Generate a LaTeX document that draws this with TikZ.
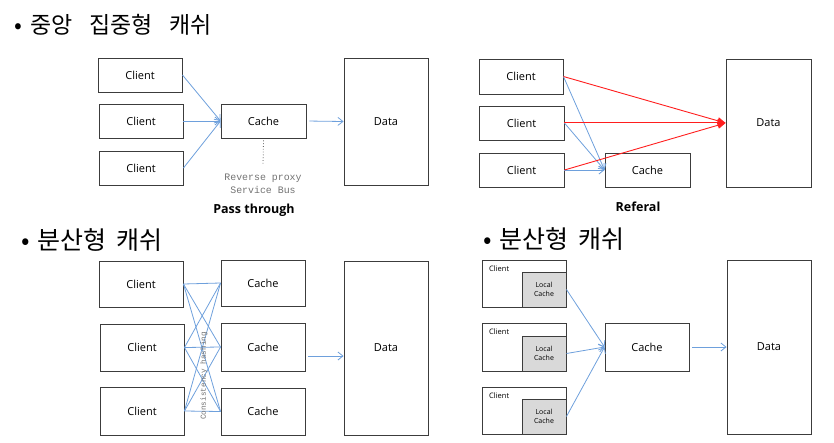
\documentclass[tikz,border=0pt]{standalone}
\usepackage{fontspec}
\setmainfont{Open Sans}
\newfontfamily\krfont{Noto Sans CJK KR}
\newfontfamily\monofnt{Liberation Mono}
\usetikzlibrary{arrows.meta,calc}
\definecolor{arrblue}{RGB}{110,160,220}
\definecolor{arrred}{RGB}{255,30,30}
\definecolor{boxline}{RGB}{60,60,60}
\definecolor{localfill}{RGB}{217,217,217}
\begin{document}
\begin{tikzpicture}[x=1pt,y=-1pt,
  box/.style={draw=boxline,line width=0.9pt,inner sep=0pt,font=\fontsize{11}{13}\selectfont},
  bl/.style={draw=arrblue,line width=0.8pt},
  barrow/.style={bl,-{Straight Barb[length=5pt,width=8pt]}},
  rarrow/.style={draw=arrred,color=arrred,line width=0.9pt,-{Triangle[length=8pt,width=7pt]}},
  title/.style={anchor=base west,inner sep=0pt,font=\krfont\fontsize{23}{28}\selectfont},
  titleb/.style={anchor=base west,inner sep=0pt,font=\krfont\fontsize{25}{30}\selectfont},
  caption/.style={inner sep=0pt,font=\bfseries\fontsize{12.5}{15}\selectfont},
  note/.style={inner sep=0pt,text=black!55,font=\monofnt\fontsize{9.9}{12.5}\selectfont,align=center},
  localbox/.style={draw=boxline,line width=0.9pt,fill=localfill,inner sep=0pt,align=center,font=\fontsize{7}{8.5}\selectfont},
  small/.style={anchor=west,inner sep=0pt,font=\fontsize{7.5}{9}\selectfont}
]
\useasboundingbox (0,0) rectangle (834,442);

% ---------- top left: pass through ----------
\node[title] (t1) at (14,33) {•\hspace{8pt}중앙\hspace{17pt}집중형\hspace{17pt}캐쉬};
\node[box,minimum width=84pt,minimum height=34pt] (a1) at (140,75) {Client};
\node[box,minimum width=84pt,minimum height=34pt] (a2) at (141,121) {Client};
\node[box,minimum width=84pt,minimum height=34pt] (a3) at (141,168) {Client};
\node[box,minimum width=85pt,minimum height=34pt] (ac) at (263.5,121) {Cache};
\node[box,minimum width=84pt,minimum height=127pt] (ad) at (386,121.5) {Data};
\draw[barrow] (a1.east) -- (ac.west);
\draw[barrow] (a2.east) -- (ac.west);
\draw[barrow] (a3.east) -- (ac.west);
\draw[barrow,shorten <=3pt] (ac.east) -- (ad.west);
\coordinate (adot) at (263,165);
\draw[dotted,line width=0.8pt,black!60] ([yshift=-2pt]ac.south) -- (adot);
\node[note] (anote) at (263,184) {Reverse proxy\\Service Bus};
\node[caption] (acap) at (254,210.5) {Pass through};

% ---------- top right: referal ----------
\node[box,minimum width=84pt,minimum height=35pt] (b1) at (521,76.5) {Client};
\node[box,minimum width=85pt,minimum height=34pt] (b2) at (521.5,123) {Client};
\node[box,minimum width=85pt,minimum height=34pt] (b3) at (521.5,170) {Client};
\node[box,minimum width=85pt,minimum height=34pt] (bc) at (647.5,170) {Cache};
\node[box,minimum width=85pt,minimum height=128pt] (bd) at (768.5,123) {Data};
\draw[barrow] (b1.east) -- (bc.west);
\draw[barrow] (b2.east) -- (bc.west);
\draw[barrow] (b3.east) -- (bc.west);
\draw[rarrow] (b1.east) -- (bd.west);
\draw[rarrow] ([yshift=0.3pt]b2.east) -- ([yshift=0.3pt]bd.west);
\draw[rarrow] (b3.east) -- (bd.west);
\node[caption] (bcap) at (638,207) {Referal};

% ---------- bottom left: distributed ----------
\node[titleb] (t2) at (21,249.5) {•\hspace{8pt}분산형\hspace{10pt}캐쉬};
\node[box,minimum width=84pt,minimum height=46pt] (c1) at (141,284) {Client};
\node[box,minimum width=84pt,minimum height=47pt] (c2) at (142,347.5) {Client};
\node[box,minimum width=84pt,minimum height=48pt] (c3) at (142,411) {Client};
\node[box,minimum width=84pt,minimum height=46pt] (k1) at (263,283) {Cache};
\node[box,minimum width=84pt,minimum height=48pt] (k2) at (263,347) {Cache};
\node[box,minimum width=84pt,minimum height=47pt] (k3) at (263,411.5) {Cache};
\node[box,minimum width=84pt,minimum height=174pt] (cd) at (386,348) {Data};
\foreach \i in {1,2,3}{\foreach \j in {1,2,3}{\draw[bl] (c\i.east) -- (k\j.west);}}
\draw[barrow] ([xshift=3pt,yshift=-9pt]k2.east) -- ([yshift=-9pt]k2.east -| cd.west);
\node[inner sep=0pt,rotate=90,text=black!55,font=\monofnt\fontsize{7.7}{9}\selectfont] (hash) at (204,376) {Consistency hashing};

% ---------- bottom right: local cache ----------
\node[titleb] (t3) at (483,248) {•\hspace{8pt}분산형\hspace{10pt}캐쉬};
\node[box,minimum width=84pt,minimum height=47pt] (e1) at (524,283.5) {};
\node[box,minimum width=84pt,minimum height=48pt] (e2) at (524,347) {};
\node[box,minimum width=84pt,minimum height=47pt] (e3) at (524,410.5) {};
\node[localbox,minimum width=44pt,minimum height=35pt] (l1) at (544,289.5) {Local\\Cache};
\node[localbox,minimum width=44pt,minimum height=35pt] (l2) at (544,353.5) {Local\\Cache};
\node[localbox,minimum width=44pt,minimum height=35pt] (l3) at (544,416.5) {Local\\Cache};
\node[small] (n1) at (489,268.5) {Client};
\node[small] (n2) at (489,332) {Client};
\node[small] (n3) at (489,395.5) {Client};
\node[box,minimum width=84pt,minimum height=48pt] (ec) at (647,347) {Cache};
\node[box,minimum width=84pt,minimum height=174pt] (ed) at (769,347) {Data};
\draw[barrow] (l1.east) -- (ec.west);
\draw[barrow] (l2.east) -- (ec.west);
\draw[barrow] (l3.east) -- (ec.west);
\draw[barrow,shorten <=3pt] (ec.east) -- (ed.west);
\end{tikzpicture}
\end{document}
